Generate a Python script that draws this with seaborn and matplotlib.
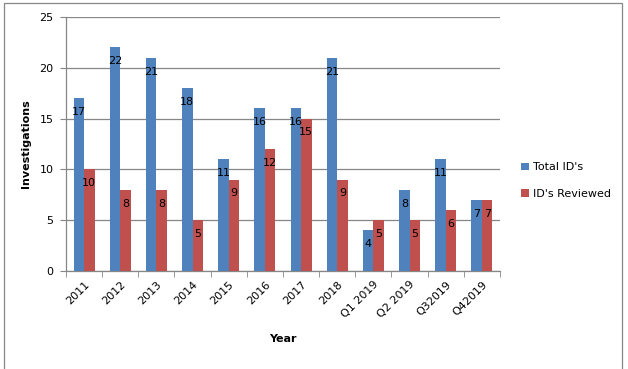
import numpy as np
import pandas as pd
import seaborn as sns
import matplotlib.pyplot as plt
from matplotlib.patches import Rectangle

periods = ["2011", "2012", "2013", "2014", "2015", "2016", "2017", "2018",
           "Q1 2019", "Q2 2019", "Q32019", "Q42019"]
total_ids = [17, 22, 21, 18, 11, 16, 16, 21, 4, 8, 11, 7]
ids_reviewed = [10, 8, 8, 5, 9, 12, 15, 9, 5, 5, 6, 7]
series_names = ["Total ID's", "ID's Reviewed"]
y_ticks = [0, 5, 10, 15, 20, 25]

df = pd.DataFrame({
    "Year": periods * 2,
    "Investigations": total_ids + ids_reviewed,
    "Series": [series_names[0]] * len(periods) + [series_names[1]] * len(periods),
})

sns.set_style("white")
plt.rcParams["font.family"] = ["DejaVu Sans"]
plt.rcParams["font.size"] = 8
plt.rcParams["text.color"] = "black"
plt.rcParams["axes.labelcolor"] = "black"

fig = plt.figure(figsize=(6.28, 3.69), dpi=100)
ax = fig.add_axes([66 / 628, 1 - 271 / 369, (500 - 66) / 628, (271 - 17) / 369])

sns.barplot(data=df, x="Year", y="Investigations", hue="Series",
            palette=["#4F81BD", "#C0504D"], saturation=1, width=0.58, gap=0,
            linewidth=0, edgecolor="none", ax=ax, zorder=3)

for cont in ax.containers:
    texts = ax.bar_label(cont, fmt="%d", padding=-10, fontsize=8, color="black")
    for t in texts:
        t.set_va("center")

ax.set_ylim(0, 25)
ax.set_xlim(-0.5, len(periods) - 0.5)
ax.set_yticks(y_ticks)
ax.yaxis.grid(True, color="#878787", linewidth=0.9, zorder=0)
ax.set_axisbelow(True)

for s in ["top", "right"]:
    ax.spines[s].set_visible(False)
for s in ["left", "bottom"]:
    ax.spines[s].set_color("#878787")
    ax.spines[s].set_linewidth(0.9)

# Excel-style tick marks between categories
ax.set_xticks(np.arange(-0.5, len(periods), 1.0), minor=True)
ax.tick_params(axis="x", which="minor", length=4, color="#878787", direction="out", bottom=True)
ax.tick_params(axis="x", which="major", length=0, pad=6, labelcolor="black")
ax.tick_params(axis="y", length=4, color="#878787", direction="out", left=True, pad=5,
               labelcolor="black")
ax.set_xticks(range(len(periods)))
ax.set_xticklabels(periods, rotation=45, ha="right", rotation_mode="anchor")

ax.set_xlabel("Year", fontweight="bold", fontsize=8, labelpad=10)
ax.set_ylabel("Investigations", fontweight="bold", fontsize=8, labelpad=6)

ax.legend(loc="center left", bbox_to_anchor=(1.025, 0.355), frameon=False,
          handlelength=0.7, handleheight=0.7, handletextpad=0.35,
          labelspacing=1.5, fontsize=8, title=None)

fig.add_artist(Rectangle((4 / 628, -0.05), (622 - 4) / 628, 1.05 - 3 / 369,
                         transform=fig.transFigure, fill=False,
                         edgecolor="#878787", linewidth=0.9))

fig.savefig("out.png", dpi=100)
